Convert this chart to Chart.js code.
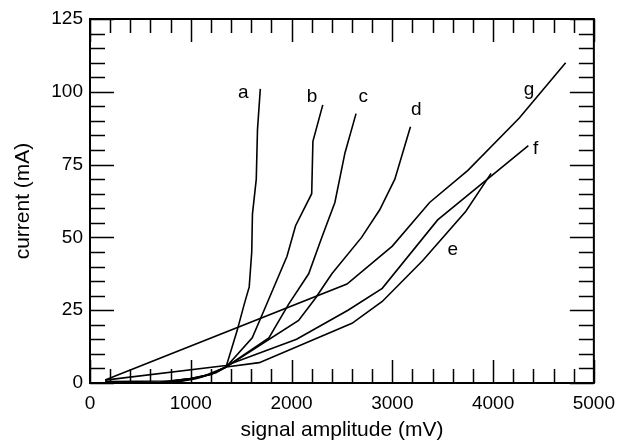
<!DOCTYPE html>
<html>
<head>
<meta charset="utf-8">
<script src="https://cdn.jsdelivr.net/npm/chart.js@4"></script>
<style>
    body { margin: 0; background: #fff; }
    #wrap { width: 624px; height: 443px; position: relative; }
</style>
</head>
<body>
<div id="wrap"><canvas id="ivChart"></canvas></div>
<script>
// signal amplitude (mV) / current (mA) pairs per curve
const ampA = [700, 1000, 1200, 1350, 1460, 1530, 1580, 1605, 1612, 1650, 1662, 1690];
const curA = [0.3, 1.5, 3, 5.5, 18, 27, 33, 45, 58, 70, 87, 101];

const ampB = [750, 1000, 1200, 1350, 1610, 1740, 1955, 2040, 2200, 2212, 2310];
const curB = [0.3, 1.5, 3, 5.5, 15.5, 26, 43.5, 54, 65, 83, 95.5];

const ampC = [800, 1000, 1200, 1350, 1775, 1970, 2170, 2300, 2430, 2530, 2640];
const curC = [0.3, 1.3, 3, 5.5, 15.5, 27, 37.5, 50, 62, 79, 92.5];

const ampD = [850, 1050, 1250, 1350, 2070, 2235, 2400, 2695, 2875, 3025, 3180];
const curD = [0.3, 1.5, 3.5, 5.5, 21.5, 29, 37.5, 50, 59.5, 70, 88];

const ampE = [150, 800, 1100, 1350, 1680, 2600, 2900, 3300, 3730, 3980];
const curE = [0.5, 0.7, 2, 5.5, 7, 20.5, 28, 42, 59, 72];

const ampF = [150, 1350, 2050, 2560, 2900, 3450, 4350];
const curF = [1, 6, 15, 25, 32.5, 56, 81.5];

const ampG = [150, 2550, 3000, 3370, 3750, 4260, 4720];
const curG = [1, 34, 47, 62, 73, 91, 110];

// curve names and where their letters sit (data coords)
const curveNames = ['a', 'b', 'c', 'd', 'e', 'f', 'g'];
const labelAmp = [1522, 2203, 2712, 3238, 3600, 4422, 4356];
const labelCur = [99.5, 98.3, 98.3, 93.7, 45.7, 80.6, 100.6];

const fontFamily = "'Liberation Sans', Arial, Helvetica, sans-serif";

function toPoints(xs, ys) {
    return xs.map((x, i) => ({ x: x, y: ys[i] }));
}

const curves = [
    [ampA, curA], [ampB, curB], [ampC, curC], [ampD, curD],
    [ampE, curE], [ampF, curF], [ampG, curG]
];

const datasets = curves.map((c, i) => ({
    label: curveNames[i],
    data: toPoints(c[0], c[1]),
    borderColor: '#000',
    borderWidth: 1.6,
    pointRadius: 0,
    fill: false,
    tension: 0
}));

// frame + inward ticks on all four sides, like the original plot
const frameTicks = {
    id: 'frameTicks',
    afterDraw(chart) {
        const { ctx, chartArea: area, scales: { x, y } } = chart;
        ctx.save();
        ctx.strokeStyle = '#000';
        ctx.lineWidth = 1.5;
        ctx.beginPath();
        for (let v = 0; v <= 5000; v += 200) {
            const px = Math.round(x.getPixelForValue(v)) + 0.5;
            const len = (v % 1000 === 0) ? 23 : 14;
            ctx.moveTo(px, area.bottom); ctx.lineTo(px, area.bottom - len);
            ctx.moveTo(px, area.top); ctx.lineTo(px, area.top + len);
        }
        for (let v = 0; v <= 125; v += 5) {
            const py = Math.round(y.getPixelForValue(v)) + 0.5;
            const len = (v % 25 === 0) ? 24 : 15;
            ctx.moveTo(area.left, py); ctx.lineTo(area.left + len, py);
            ctx.moveTo(area.right, py); ctx.lineTo(area.right - len, py);
        }
        ctx.stroke();

        ctx.lineWidth = 2;
        ctx.strokeRect(area.left, area.top, area.right - area.left, area.bottom - area.top);

        // curve letters
        ctx.fillStyle = '#000';
        ctx.font = '19px ' + fontFamily;
        ctx.textAlign = 'center';
        ctx.textBaseline = 'middle';
        curveNames.forEach((name, i) => {
            ctx.fillText(name, x.getPixelForValue(labelAmp[i]), y.getPixelForValue(labelCur[i]));
        });
        ctx.restore();
    }
};

new Chart(document.getElementById('ivChart'), {
    type: 'line',
    data: { datasets: datasets },
    options: {
        responsive: true,
        maintainAspectRatio: false,
        animation: false,
        layout: { padding: { left: 0, right: 27, top: 19, bottom: 0 } },
        plugins: {
            legend: { display: false },
            tooltip: { enabled: false }
        },
        scales: {
            x: {
                type: 'linear',
                min: 0,
                max: 5000,
                grid: { display: false, drawTicks: false },
                border: { display: false },
                ticks: {
                    stepSize: 1000,
                    padding: 9,
                    color: '#000',
                    font: { family: fontFamily, size: 19 },
                    callback: value => String(value)  // no thousands separator
                },
                title: {
                    display: true,
                    text: 'signal amplitude (mV)',
                    color: '#000',
                    padding: 0,
                    font: { family: fontFamily, size: 21 }
                },
                afterFit: scale => { scale.height = 60; }
            },
            y: {
                min: 0,
                max: 125,
                grid: { display: false, drawTicks: false },
                border: { display: false },
                ticks: {
                    stepSize: 25,
                    padding: 7,
                    color: '#000',
                    font: { family: fontFamily, size: 19 }
                },
                title: {
                    display: true,
                    text: 'current (mA)',
                    color: '#000',
                    padding: { top: 11, bottom: 0 },
                    font: { family: fontFamily, size: 21 }
                },
                afterFit: scale => { scale.width = 90; }
            }
        }
    },
    plugins: [frameTicks]
});
</script>
</body>
</html>
